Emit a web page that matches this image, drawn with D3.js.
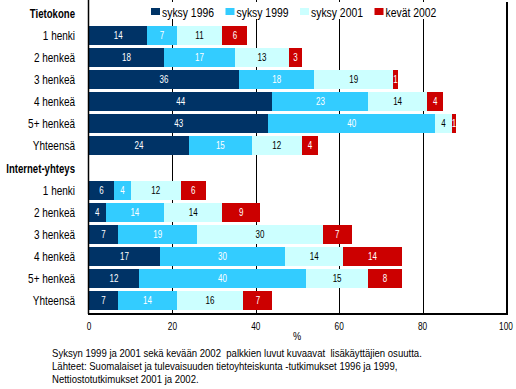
<!DOCTYPE html>
<html>
<head>
<meta charset="utf-8" />
<style>
	body { margin: 0; background: #fff; }
	svg text { font-family: 'Liberation Sans', Arial, sans-serif; }
	.cat { font-size: 12.5px; fill: #000; }
	.head { font-size: 12px; font-weight: bold; }
	.val { font-size: 10px; }
	.tick { font-size: 11.5px; }
	.note { font-size: 11px; }
	.leg { font-size: 13px; }
</style>
</head>
<body>
<div id="chart"></div>
<script src="https://d3js.org/d3.v7.min.js"></script>
<script>

//// data ////
var groups = ['Tietokone', 'Internet-yhteys'];
var categories = ['1 henki', '2 henkeä', '3 henkeä', '4 henkeä', '5+ henkeä', 'Yhteensä'];
var series = ['syksy 1996', 'syksy 1999', 'syksy 2001', 'kevät 2002'];
var colors = ['#003366', '#33ccff', '#ccffff', '#cc0000'];
var labelColors = ['#fff', '#fff', '#000', '#fff'];

// rows follow categories, columns follow series
var tietokone = [
	[14, 7, 11, 6],
	[18, 17, 13, 3],
	[36, 18, 19, 1],
	[44, 23, 14, 4],
	[43, 40, 4, 1],
	[24, 15, 12, 4]
];
var internet = [
	[6, 4, 12, 6],
	[4, 14, 14, 9],
	[7, 19, 30, 7],
	[17, 30, 14, 14],
	[12, 40, 15, 8],
	[7, 14, 16, 7]
];
var xTicks = [0, 20, 40, 60, 80, 100];
var notes = [
	'Syksyn 1999 ja 2001 sekä kevään 2002  palkkien luvut kuvaavat  lisäkäyttäjien osuutta.',
	'Lähteet: Suomalaiset ja tulevaisuuden tietoyhteiskunta -tutkimukset 1996 ja 1999,',
	'Nettiostotutkimukset 2001 ja 2002.'
];

//// build rows: a header row then the categories for each group ////
var rows = [];
[tietokone, internet].forEach(function (block, g) {
	rows.push({ key: 'h' + g, label: groups[g], header: true });
	block.forEach(function (vals, i) {
		var r = { key: g + '-' + i, label: categories[i], header: false };
		series.forEach(function (s, j) { r[s] = vals[j]; });
		rows.push(r);
	});
});
var dataRows = rows.filter(function (d) { return !d.header; });

var width = 516, height = 389;
var svg = d3.select('#chart').append('svg')
	.attr('width', width)
	.attr('height', height);

// narrow look of the original font: squeeze text horizontally
var SQ = 0.8;
function squeeze(sel, fx, fy, sx) {
	sel.attr('transform', function (d, i) {
		return 'translate(' + fx(d, i) + ',' + fy(d, i) + ') scale(' + (sx || SQ) + ',1)';
	});
}

var x = d3.scaleLinear().domain([0, 100]).range([89, 506]);
var y = d3.scaleBand()
	.domain(rows.map(function (d) { return d.key; }))
	.range([2, 312])
	.paddingInner(0.14)
	.paddingOuter(0.07);

var plotTop = 0, plotBottom = 313;

// gridlines
svg.append('g')
	.selectAll('line')
	.data(xTicks.slice(1, -1))
	.enter().append('line')
	.attr('x1', function (d) { return Math.round(x(d)) + 0.5; })
	.attr('x2', function (d) { return Math.round(x(d)) + 0.5; })
	.attr('y1', plotTop)
	.attr('y2', plotBottom)
	.attr('stroke', '#000')
	.attr('stroke-width', 1);

// stacked bars
var stack = d3.stack().keys(series);
var stacked = stack(dataRows);

var layer = svg.append('g')
	.selectAll('g')
	.data(stacked)
	.enter().append('g')
	.attr('fill', function (d, i) { return colors[i]; });

layer.selectAll('rect')
	.data(function (d) { return d; })
	.enter().append('rect')
	.attr('x', function (d) { return x(d[0]); })
	.attr('width', function (d) { return x(d[1]) - x(d[0]); })
	.attr('y', function (d) { return y(d.data.key); })
	.attr('height', y.bandwidth())
	.attr('shape-rendering', 'crispEdges');

// value labels
layer.each(function (s, i) {
	var t = d3.select(this).selectAll('text')
		.data(s)
		.enter().append('text')
		.attr('class', 'val')
		.attr('text-anchor', 'middle')
		.attr('fill', labelColors[i])
		.text(function (d) { return d.data[s.key]; });
	squeeze(t,
		function (d) { return (x(d[0]) + x(d[1])) / 2; },
		function (d) { return y(d.data.key) + y.bandwidth() / 2 + 3.5; });
});

// frame: left, right and bottom
svg.append('line')
	.attr('x1', 88.5).attr('x2', 88.5)
	.attr('y1', plotTop).attr('y2', plotBottom + 1)
	.attr('stroke', '#000').attr('stroke-width', 1.5);
svg.append('line')
	.attr('x1', 507).attr('x2', 507)
	.attr('y1', 2).attr('y2', plotBottom + 2)
	.attr('stroke', '#000').attr('stroke-width', 2);
svg.append('line')
	.attr('x1', 88).attr('x2', 508)
	.attr('y1', plotBottom + 1).attr('y2', plotBottom + 1)
	.attr('stroke', '#000').attr('stroke-width', 2);

// category labels
var cats = svg.append('g')
	.selectAll('text')
	.data(rows)
	.enter().append('text')
	.attr('class', function (d) { return d.header ? 'head' : 'cat'; })
	.attr('text-anchor', 'end')
	.text(function (d) { return d.label; });
squeeze(cats,
	function () { return 75; },
	function (d) { return y(d.key) + y.bandwidth() / 2 + 4.5; });

// x tick labels
var ticks = svg.append('g')
	.selectAll('text')
	.data(xTicks)
	.enter().append('text')
	.attr('class', 'tick')
	.attr('text-anchor', 'middle')
	.text(function (d) { return d; });
squeeze(ticks, function (d) { return x(d); }, function () { return 330; }, 0.72);

var pct = svg.append('text')
	.datum('%')
	.attr('class', 'tick')
	.attr('text-anchor', 'middle')
	.text('%');
squeeze(pct, function () { return 297; }, function () { return 340; });

// legend with white backing
var legend = svg.append('g');
legend.append('rect')
	.attr('x', 148).attr('y', 2)
	.attr('width', 290).attr('height', 17)
	.attr('fill', '#fff');
series.forEach(function (s, i) {
	var lx = 151 + i * 74.5;
	legend.append('rect')
		.attr('x', lx).attr('y', 8)
		.attr('width', 9).attr('height', 7)
		.attr('fill', colors[i]);
	var t = legend.append('text')
		.datum(s)
		.attr('class', 'leg')
		.text(s);
	squeeze(t, function () { return lx + 11; }, function () { return 17; }, 0.8);
});

// notes
var nt = svg.append('g')
	.selectAll('text')
	.data(notes)
	.enter().append('text')
	.attr('class', 'note')
	.style('white-space', 'pre')
	.text(function (d) { return d; });
squeeze(nt, function () { return 52; }, function (d, i) { return 357 + i * 13; }, 0.87);

</script>
</body>
</html>
